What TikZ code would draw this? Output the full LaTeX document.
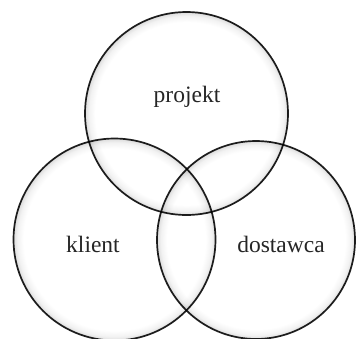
\documentclass[tikz,border=0pt]{standalone}
\usepackage{fontspec}
\setmainfont{Liberation Serif}
\pgfdeclareradialshading{vennglow}{\pgfpoint{0bp}{0bp}}{color(0bp)=(white); color(22.5bp)=(white); color(24bp)=(black!5); color(25bp)=(black!14); color(50bp)=(black!14)}
\tikzset{
  venn/.style={circle, draw=black!88, line width=1.7pt, shading=vennglow, inner sep=0pt},
  lbl/.style={font=\fontsize{23.5}{28}\selectfont, text=black!85, anchor=base, inner sep=0pt}
}
\begin{document}
\begin{tikzpicture}[x=1pt,y=-1pt]
\useasboundingbox (0,0) rectangle (358,338);
\begin{scope}[blend mode=multiply]
\node[venn, minimum size=203pt] (ctop) at (186.5,113.5) {};
\node[venn, minimum size=202pt] (cleft) at (114.5,239.5) {};
\node[venn, minimum size=198pt] (cright) at (256,240) {};
\end{scope}
\node[lbl] (tproj) at (187,102.7) {projekt};
\node[lbl] (tkl) at (93,252.3) {klient};
\node[lbl] (tdos) at (281,252.3) {dostawca};
\end{tikzpicture}
\end{document}
